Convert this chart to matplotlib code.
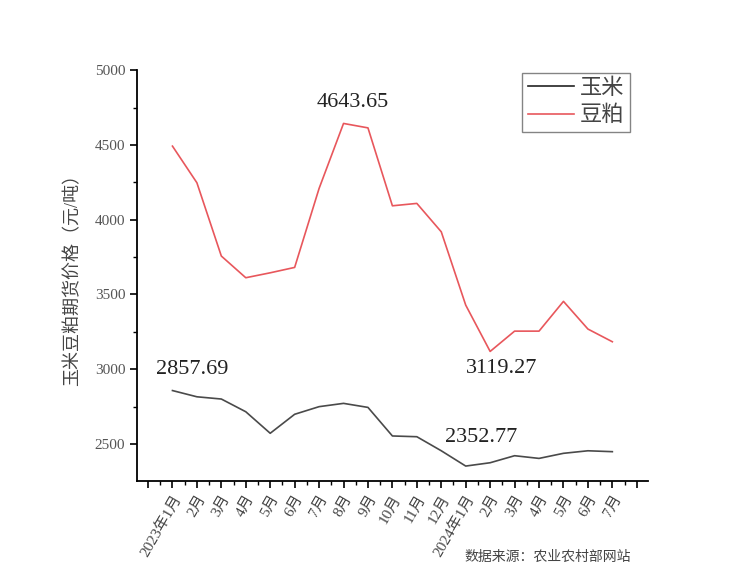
import matplotlib.pyplot as plt
from matplotlib.ticker import MultipleLocator

plt.rcParams['font.family'] = ['Liberation Serif', 'Noto Sans CJK SC', 'DejaVu Sans']

# 月份标签
months = ['2023年1月', '2月', '3月', '4月', '5月', '6月', '7月', '8月', '9月', '10月',
          '11月', '12月', '2024年1月', '2月', '3月', '4月', '5月', '6月', '7月']
# 玉米期货价格（元/吨）
corn = [2857.69, 2816, 2801, 2716, 2572, 2699, 2750, 2772, 2745, 2554,
        2549, 2455, 2352.77, 2375, 2422, 2404, 2438, 2455, 2449]
# 豆粕期货价格（元/吨）
meal = [4492, 4247, 3757, 3612, 3645, 3681, 4209, 4643.65, 4614, 4093,
        4109, 3919, 3429, 3119.27, 3255, 3255, 3454, 3269, 3184]

x = list(range(len(months)))

fig = plt.figure(figsize=(7.5, 5.75), dpi=100)
ax = fig.add_axes([0.1827, 0.1635, 0.681, 0.7145])

ax.plot(x, corn, color='#4a4a4a', linewidth=1.2, label='玉米')
ax.plot(x, meal, color='#e8575c', linewidth=1.2, label='豆粕')

# 标注数值
ax.text(7.38, 4786, '4643.65', fontsize=16, ha='center', va='center', color='#222222')
ax.text(0.80, 3001, '2857.69', fontsize=16, ha='center', va='center', color='#222222')
ax.text(13.46, 3008, '3119.27', fontsize=16, ha='center', va='center', color='#222222')
ax.text(12.64, 2547, '2352.77', fontsize=16, ha='center', va='center', color='#222222')

ax.set_xlim(-1.45, 19.45)
ax.set_ylim(2253, 5000)
ax.set_xticks(range(-1, 20))
ax.set_xticklabels([''] + months + [''], rotation=60, ha='right',
                   rotation_mode='anchor', fontsize=11, color='#444444')
ax.xaxis.set_minor_locator(MultipleLocator(0.5))
ax.yaxis.set_major_locator(MultipleLocator(500))
ax.yaxis.set_minor_locator(MultipleLocator(250))
ax.tick_params(axis='y', labelsize=11, labelcolor='#555555', length=5, width=1.2)
ax.tick_params(axis='x', length=5, width=1.2)
ax.tick_params(which='minor', length=3, width=1.0)

for s in ['top', 'right']:
    ax.spines[s].set_visible(False)
for s in ['left', 'bottom']:
    ax.spines[s].set_linewidth(1.3)

ax.set_ylabel('玉米豆粕期货价格（元/吨）', fontsize=13, color='#444444', labelpad=10)

leg = ax.legend(loc='upper right', bbox_to_anchor=(0.965, 0.993), fontsize=16,
                frameon=True, fancybox=False, edgecolor='#666666', borderaxespad=0,
                handlelength=2.1, borderpad=0.25, labelspacing=0.3, handletextpad=0.25)
leg.get_frame().set_linewidth(1.0)
leg.legend_handles[0].set_color('#222222')
for t in leg.get_texts():
    t.set_color('#444444')

fig.text(0.73, 0.024, '数据来源：农业农村部网站', fontsize=10, color='#444444', ha='center')

plt.savefig('out.png', dpi=100)
